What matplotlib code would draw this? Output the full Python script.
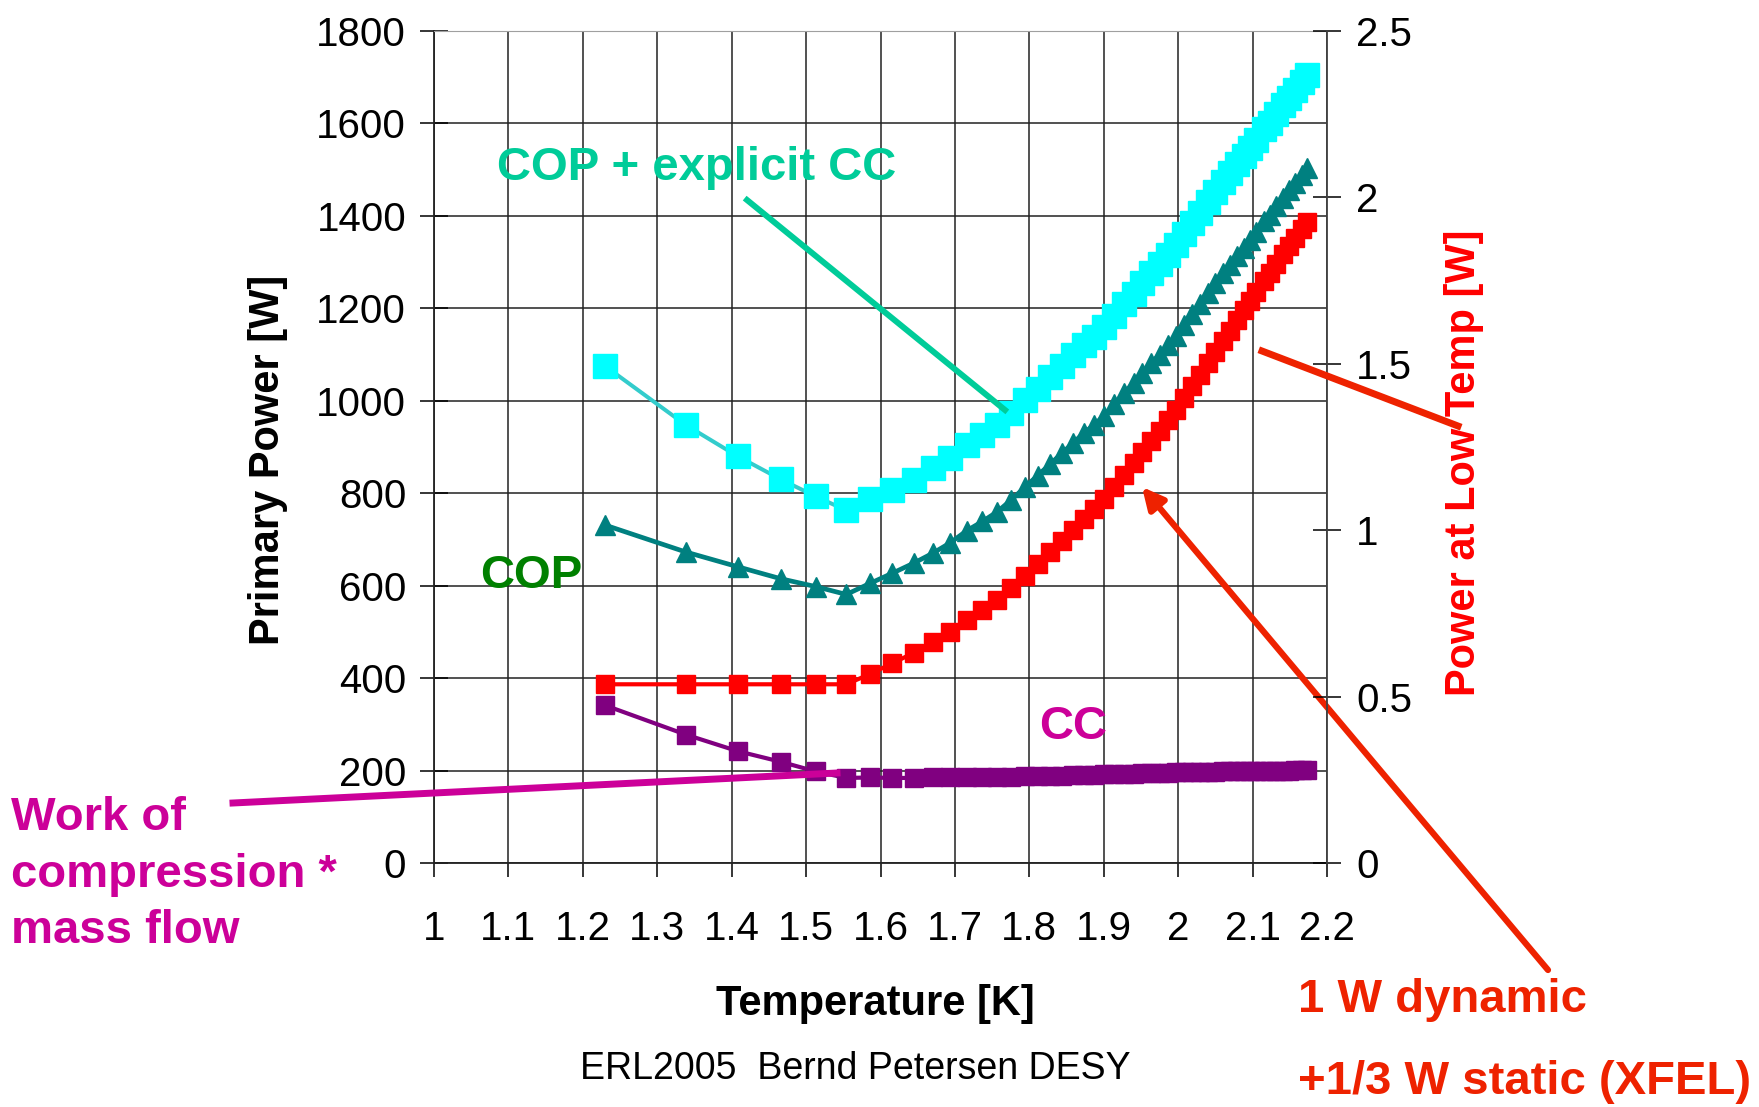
import matplotlib
matplotlib.use('Agg')
import matplotlib.pyplot as plt
from matplotlib.lines import Line2D
import numpy as np

plt.rcParams['font.family'] = ['Liberation Sans', 'DejaVu Sans']

# temperature of the bath [K]
temperature = [1.230, 1.338, 1.408, 1.466, 1.513, 1.554, 1.586, 1.616, 1.645, 1.670,
               1.693, 1.716, 1.737, 1.757, 1.776, 1.794, 1.811, 1.828, 1.844, 1.859,
               1.873, 1.887, 1.900, 1.914, 1.927, 1.940, 1.952, 1.964, 1.975, 1.986,
               1.997, 2.008, 2.019, 2.029, 2.040, 2.050, 2.060, 2.069, 2.079, 2.088,
               2.096, 2.105, 2.115, 2.123, 2.132, 2.141, 2.149, 2.157, 2.166, 2.173]
# primary power, COP only [W]
copPower = [731, 673, 641, 615, 598, 581, 605, 627, 649, 670,
            692, 719, 739, 760, 786, 813, 838, 863, 887, 909,
            930, 948, 967, 992, 1016, 1039, 1060, 1082, 1100, 1120,
            1140, 1164, 1188, 1209, 1233, 1255, 1276, 1294, 1314, 1331,
            1348, 1366, 1388, 1402, 1421, 1439, 1455, 1472, 1489, 1503]
# work of compression * mass flow of the cold compressors [W]
ccPower = [341, 278, 242, 219, 198, 184, 185, 184, 184, 185,
           185, 186, 186, 187, 187, 188, 188, 189, 189, 190,
           190, 191, 192, 192, 193, 193, 194, 194, 195, 195,
           196, 196, 196, 197, 197, 197, 198, 198, 198, 199,
           199, 199, 199, 200, 200, 200, 200, 201, 201, 201]
# COP + explicit CC [W]
copPlusCcPower = [1075, 948, 880, 830, 793, 763, 787, 807, 829, 855,
                  877, 905, 925, 947, 973, 1001, 1026, 1052, 1076, 1099,
                  1120, 1139, 1159, 1184, 1209, 1232, 1254, 1276, 1295, 1315,
                  1336, 1360, 1384, 1406, 1430, 1452, 1474, 1492, 1512, 1530,
                  1547, 1565, 1587, 1602, 1621, 1639, 1655, 1673, 1690, 1704]
# heat load at low temperature [W] (right axis)
lowTempPower = [0.537, 0.537, 0.537, 0.537, 0.537, 0.537, 0.568, 0.600, 0.632, 0.664,
                0.694, 0.730, 0.760, 0.790, 0.826, 0.862, 0.897, 0.933, 0.968, 1.001,
                1.033, 1.063, 1.093, 1.130, 1.165, 1.201, 1.234, 1.268, 1.299, 1.330,
                1.362, 1.397, 1.433, 1.466, 1.502, 1.536, 1.570, 1.600, 1.632, 1.662,
                1.689, 1.716, 1.748, 1.773, 1.801, 1.829, 1.853, 1.877, 1.904, 1.925]

xTicks = [1.0, 1.1, 1.2, 1.3, 1.4, 1.5, 1.6, 1.7, 1.8, 1.9, 2.0, 2.1, 2.2]
xTickLabels = ['1', '1.1', '1.2', '1.3', '1.4', '1.5', '1.6', '1.7', '1.8', '1.9', '2', '2.1', '2.2']
yTicks = [0, 200, 400, 600, 800, 1000, 1200, 1400, 1600, 1800]
y2Ticks = [0, 0.5, 1, 1.5, 2, 2.5]
y2TickLabels = ['0', '0.5', '1', '1.5', '2', '2.5']

W, H = 1759, 1107


def fx(px):
    return px / W


def fy(py):
    return 1 - py / H


fig = plt.figure(figsize=(W / 100, H / 100), dpi=100)
ax = fig.add_axes([fx(434), fy(863), (1327 - 434) / W, (863 - 31) / H])
ax2 = ax.twinx()

ax.set_xlim(1, 2.2)
ax.set_ylim(0, 1800)
ax2.set_ylim(0, 2.5)

ax.grid(True, color='#222222', linewidth=1.1)
ax.set_axisbelow(True)

ax.plot(temperature, copPlusCcPower, color='#33CCCC', linewidth=2.9, marker='s',
        markersize=17, markerfacecolor='#00FFFF', markeredgecolor='#00FFFF', zorder=3, clip_on=False)
ax.plot(temperature, copPower, color='#008080', linewidth=3.4, marker='^',
        markersize=14.5, markerfacecolor='#008080', markeredgecolor='#008080', zorder=3, clip_on=False)
ax.plot(temperature, ccPower, color='#800080', linewidth=3, marker='s',
        markersize=13, markerfacecolor='#800080', markeredgecolor='#800080', zorder=3, clip_on=False)
ax2.plot(temperature, lowTempPower, color='#FF0000', linewidth=3, marker='s',
         markersize=13.5, markerfacecolor='#FF0000', markeredgecolor='#FF0000', zorder=3, clip_on=False)

ax.set_xticks(xTicks)
ax.set_xticklabels(xTickLabels)
ax.set_yticks(yTicks)
ax.set_yticklabels([str(v) for v in yTicks])
ax2.set_yticks(y2Ticks)
ax2.set_yticklabels(y2TickLabels)

ax.tick_params(axis='x', direction='out', length=10, width=1.1, pad=24, labelsize=29, colors='black')
ax.tick_params(axis='y', direction='inout', length=20, width=1.1, pad=10, labelsize=29)
ax2.tick_params(axis='y', direction='inout', length=20, width=1.1, pad=11, labelsize=29)

for side in ['left', 'bottom']:
    ax.spines[side].set_color('#222222')
    ax.spines[side].set_linewidth(1.3)
ax.spines['top'].set_color('#a0a0a0')
ax.spines['right'].set_visible(False)
for side in ['left', 'top', 'bottom']:
    ax2.spines[side].set_visible(False)
ax2.spines['right'].set_color('#404040')
ax2.spines['right'].set_linewidth(1.3)

# axis titles
fig.text(fx(716), fy(1015), 'Temperature [K]', fontsize=30, fontweight='bold', va='baseline', ha='left')
fig.text(fx(268), fy(460), 'Primary Power [W]', fontsize=30, fontweight='bold', rotation=90,
         va='center', ha='center')
fig.text(fx(1464), fy(463), 'Power at Low Temp [W]', fontsize=30, fontweight='bold', rotation=90,
         va='center', ha='center', color='#FF0000')
fig.text(fx(580), fy(1079), 'ERL2005  Bernd Petersen DESY', fontsize=27, va='baseline', ha='left')

# annotations
fig.text(fx(497), fy(180), 'COP + explicit CC', fontsize=34, fontweight='bold', color='#00CC99', va='baseline')
fig.text(fx(480), fy(588), 'COP', fontsize=34, fontweight='bold', color='#008000', va='baseline')
fig.text(fx(1039), fy(739), 'CC', fontsize=34, fontweight='bold', color='#CC0099', va='baseline')
for label, base in [('Work of', 830), ('compression *', 887), ('mass flow', 943)]:
    fig.text(fx(11), fy(base), label, fontsize=34, fontweight='bold', color='#CC0099', va='baseline')
fig.text(fx(1298), fy(1012), '1 W dynamic', fontsize=34, fontweight='bold', color='#EE2200', va='baseline')
fig.text(fx(1298), fy(1094), '+1/3 W static (XFEL)', fontsize=34, fontweight='bold', color='#EE2200',
         va='baseline')

fig.add_artist(Line2D([fx(747), fx(1005)], [fy(200), fy(410)], color='#00CC99', linewidth=4.3,
                      transform=fig.transFigure))
fig.add_artist(Line2D([fx(233), fx(837)], [fy(803), fy(773)], color='#CC0099', linewidth=5,
                      transform=fig.transFigure))
fig.add_artist(Line2D([fx(1262), fx(1458)], [fy(351), fy(426)], color='#EE2200', linewidth=5,
                      transform=fig.transFigure))
ax.annotate('', xy=(fx(1142), fy(487)), xytext=(fx(1548), fy(970)), xycoords='figure fraction',
            textcoords='figure fraction', annotation_clip=False,
            arrowprops=dict(arrowstyle='-|>', color='#EE2200', linewidth=4.5, mutation_scale=32,
                            shrinkA=0, shrinkB=0))

fig.savefig('out.png', dpi=100)
